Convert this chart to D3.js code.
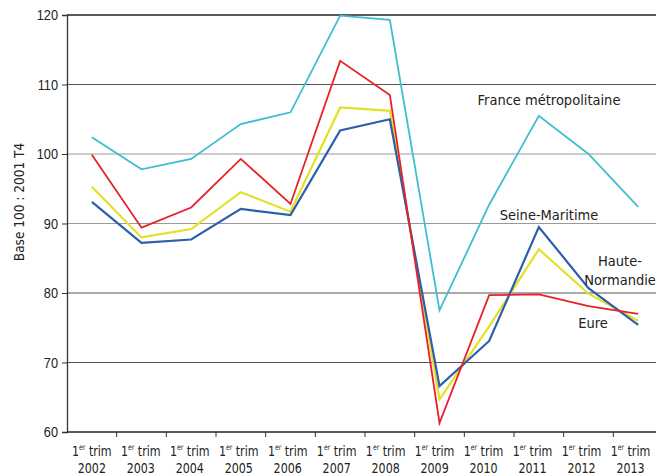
<!DOCTYPE html>
<html>
<head>
<meta charset="utf-8">
<script src="https://cdn.jsdelivr.net/npm/d3@7"></script>
<style>
  body { margin: 0; background: #fff; }
  svg { display: block; font-family: "DejaVu Sans Condensed", "Roboto", sans-serif; }
</style>
</head>
<body>
<svg width="656" height="475"></svg>
<script>
// --- Data ---
const years = ["2002","2003","2004","2005","2006","2007","2008","2009","2010","2011","2012","2013"];
const france = [102.4, 97.8, 99.3, 104.3, 106.0, 119.9, 119.3, 77.5, 92.7, 105.5, 100.0, 92.4];
const eure = [99.9, 89.4, 92.3, 99.3, 92.8, 113.4, 108.5, 61.3, 79.7, 79.8, 78.1, 77.0];
const hauteNormandie = [95.3, 88.0, 89.2, 94.5, 91.7, 106.7, 106.2, 64.7, 75.2, 86.3, 79.9, 76.0];
const seineMaritime = [93.1, 87.2, 87.7, 92.1, 91.2, 103.4, 105.0, 66.6, 73.1, 89.5, 80.7, 75.4];
const yTicks = [60, 70, 80, 90, 100, 110, 120];

const series = [
  { name: "France métropolitaine", values: france, color: "#3dbfcf", width: 1.8 },
  { name: "Haute-Normandie", values: hauteNormandie, color: "#e4e024", width: 2.2 },
  { name: "Seine-Maritime", values: seineMaritime, color: "#2c5ead", width: 2.2 },
  { name: "Eure", values: eure, color: "#e8202a", width: 1.8 }
];

// --- Setup ---
const svg = d3.select("svg");
const mLeft = 67, mRight = 663, mTop = 15, mBottom = 432;

const x = d3.scaleBand().domain(years).range([mLeft, mRight]);
const y = d3.scaleLinear().domain([60, 120]).range([mBottom, mTop]);

// --- Grid ---
svg.append("g")
  .selectAll("line")
  .data(yTicks.filter(d => d > 60 && d < 120))
  .enter().append("line")
    .attr("x1", mLeft).attr("x2", 656)
    .attr("y1", d => y(d)).attr("y2", d => y(d))
    .attr("stroke", d => (d === 100 || d === 90) ? "#9a9a9a" : "#555")
    .attr("stroke-width", 1.2);

svg.append("line")
  .attr("x1", mLeft).attr("x2", 656)
  .attr("y1", y(120)).attr("y2", y(120))
  .attr("stroke", "#222").attr("stroke-width", 1.6);

// --- Y axis ---
const yAxis = svg.append("g")
  .attr("transform", `translate(${mLeft},0)`)
  .call(d3.axisLeft(y).tickValues(yTicks).tickSize(5).tickPadding(4));
yAxis.select(".domain").attr("stroke", "#333").attr("stroke-width", 1.3);
yAxis.selectAll(".tick line").attr("stroke", "#333");
yAxis.selectAll("text").attr("font-size", 14.5).attr("fill", "#222")
  .attr("transform", "translate(-9,0) scale(0.88,1)").attr("x", 0);

svg.append("text")
  .attr("transform", `translate(24,202) rotate(-90)`)
  .attr("text-anchor", "middle")
  .attr("font-size", 13.5)
  .attr("fill", "#222")
  .text("Base 100 : 2001 T4");

// --- X axis ---
const xAxis = svg.append("g").attr("transform", `translate(0,${mBottom})`);
xAxis.append("line")
  .attr("x1", mLeft).attr("x2", 656)
  .attr("stroke", "#222").attr("stroke-width", 1.6);
xAxis.selectAll(".xt")
  .data(years.slice(1))
  .enter().append("line")
    .attr("class", "xt")
    .attr("x1", d => x(d)).attr("x2", d => x(d))
    .attr("y1", 0).attr("y2", 5)
    .attr("stroke", "#333");

const xl = xAxis.selectAll(".xl")
  .data(years)
  .enter().append("g")
    .attr("class", "xl")
    .attr("transform", (d, i) => `translate(${x(d) + x.bandwidth() / 2 - i * 0.7},0) scale(0.85,1)`);
const l1 = xl.append("text")
  .attr("y", 24)
  .attr("text-anchor", "middle")
  .attr("font-size", 14.5)
  .attr("fill", "#222");
l1.append("tspan").text("1");
l1.append("tspan").attr("font-size", 8).attr("dy", -6).text("er");
l1.append("tspan").attr("dy", 6).text(" trim");
xl.append("text")
  .attr("y", 41)
  .attr("text-anchor", "middle")
  .attr("font-size", 14.5)
  .attr("fill", "#222")
  .text(d => d);

// --- Lines ---
const line = d3.line()
  .x((d, i) => x(years[i]) + x.bandwidth() / 2)
  .y(d => y(d));

svg.append("g")
  .selectAll("path")
  .data(series)
  .enter().append("path")
    .attr("d", d => line(d.values))
    .attr("fill", "none")
    .attr("stroke", d => d.color)
    .attr("stroke-width", d => d.width)
    .attr("stroke-linejoin", "miter");

// --- Labels ---
const labels = [
  { lines: ["France métropolitaine"], x: 549, y: 105 },
  { lines: ["Seine-Maritime"], x: 549, y: 220 },
  { lines: ["Haute-", "Normandie"], x: 620, y: 266 },
  { lines: ["Eure"], x: 593, y: 328 }
];
labels.forEach(l => {
  const t = svg.append("text")
    .attr("text-anchor", "middle")
    .attr("font-size", 14.5)
    .attr("fill", "#222");
  l.lines.forEach((s, i) => {
    t.append("tspan").attr("x", l.x).attr("y", l.y + i * 19).text(s);
  });
});
</script>
</body>
</html>
